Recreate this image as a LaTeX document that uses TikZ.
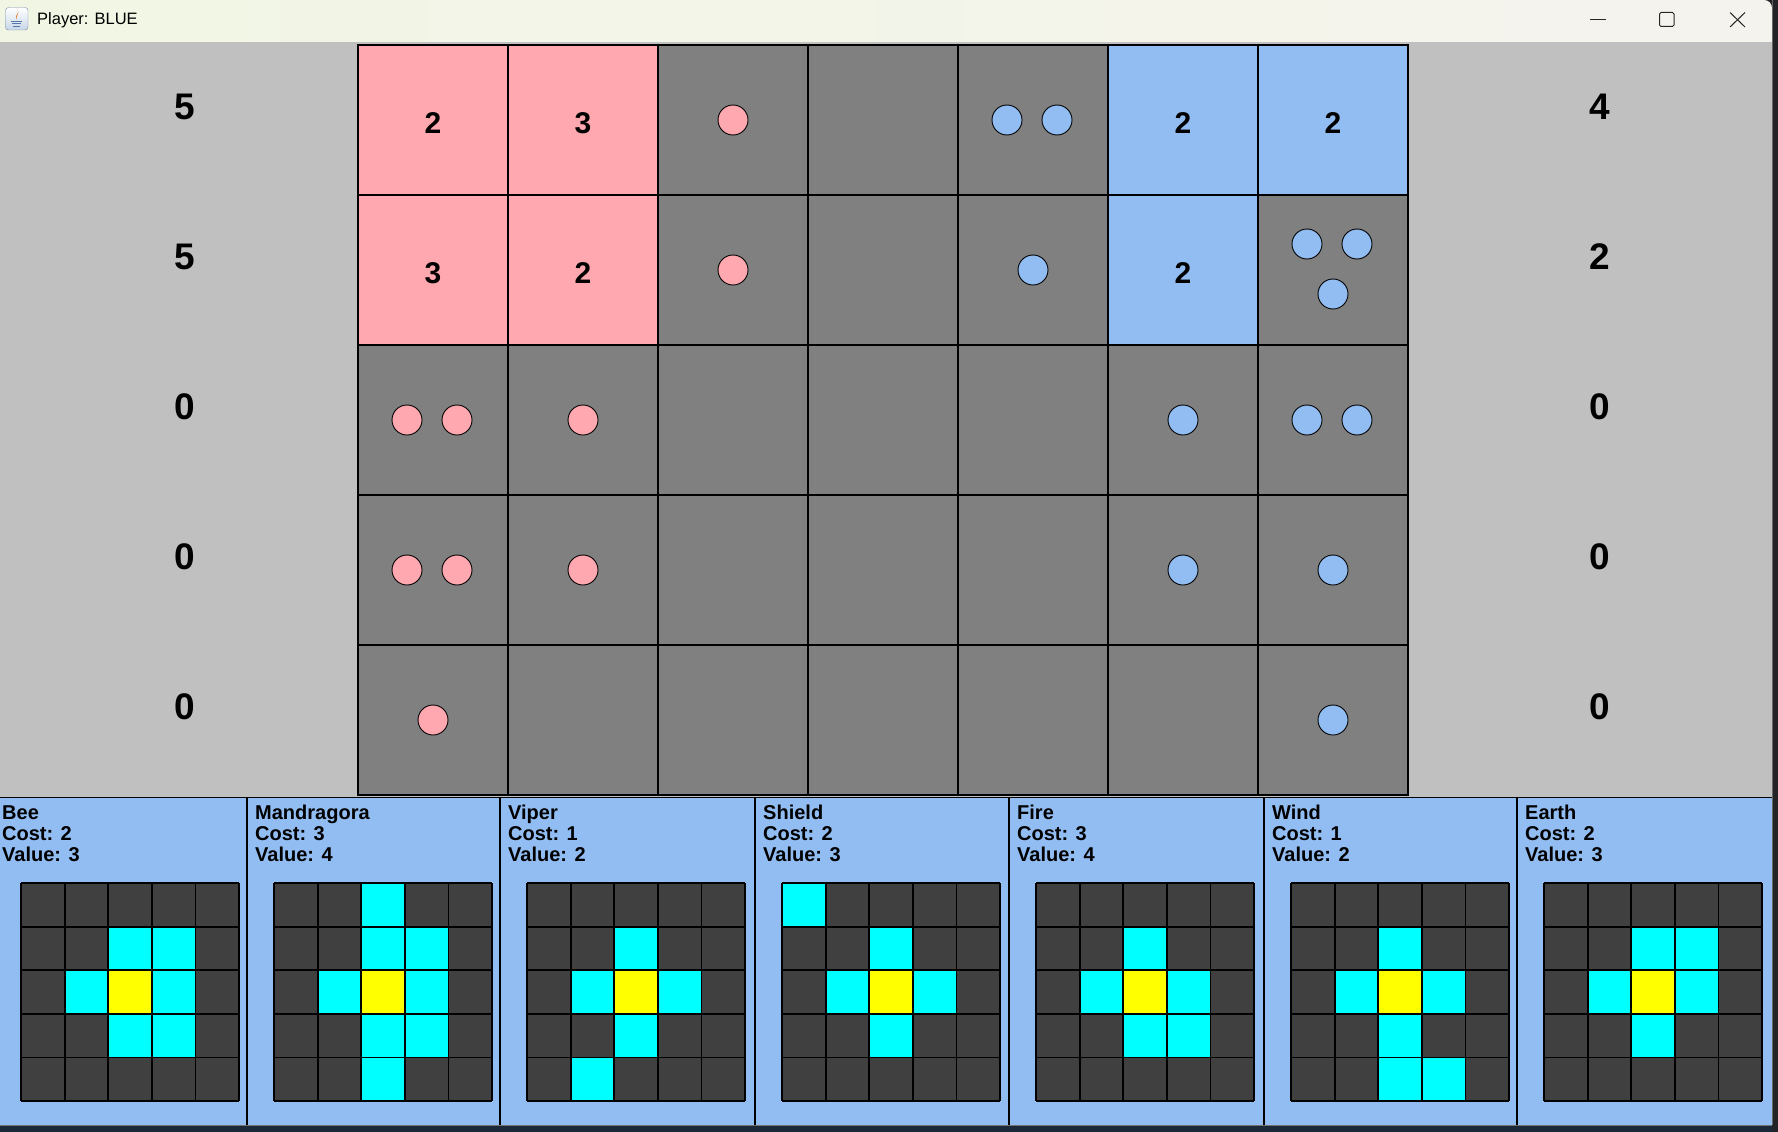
\documentclass[tikz,border=0pt]{standalone}
\usepackage{fontspec}
\setmainfont{Liberation Sans}

\definecolor{winbg}{RGB}{192,192,192}
\definecolor{titleL}{RGB}{241,246,228}
\definecolor{titleR}{RGB}{245,243,238}
\definecolor{edgedark}{RGB}{34,35,38}
\definecolor{edgenavy}{RGB}{27,40,55}
\definecolor{redcell}{RGB}{255,168,175}
\definecolor{bluecell}{RGB}{146,189,242}
\definecolor{emptycell}{RGB}{128,128,128}
\definecolor{patdark}{RGB}{64,64,64}
\definecolor{patcyan}{RGB}{0,255,255}
\definecolor{patcore}{RGB}{255,255,0}
\definecolor{iconedge}{RGB}{120,138,160}
\definecolor{iconblue}{RGB}{200,214,232}
\definecolor{cupblue}{RGB}{84,118,170}
\definecolor{flame}{RGB}{226,122,34}

\begin{document}
\begin{tikzpicture}[x=1pt, y=-1pt,
    cellbox/.style={draw=black, line width=1.2pt, minimum width=150pt, minimum height=150pt, inner sep=0pt},
    token/.style={draw=black, line width=0.9pt},
    cellnum/.style={font=\fontsize{30}{36}\selectfont\bfseries, inner sep=0pt},
    sidenum/.style={font=\fontsize{37}{44}\selectfont\bfseries, inner sep=0pt},
    cardtxt/.style={font=\fontsize{20}{24}\selectfont\bfseries, inner sep=0pt, anchor=base west},
    pat/.style={draw=black, line width=1.8pt},
    winbtn/.style={draw=black!85, line width=1pt}]
  \useasboundingbox (0,0) rectangle (1778,1132);

  % Window
  \fill[edgedark] (0,0) rectangle (1778,1132);
  \shade[left color=titleL, right color=titleR, rounded corners=8pt] (-20,0) rectangle (1772,60);
  \fill[winbg] (0,42) rectangle (1772,1125);
  \draw[black!60] (1772.5,0) -- (1772.5,1125);

  % Title bar
  \shadedraw[top color=white, bottom color=iconblue, draw=iconedge, rounded corners=3pt] (5.5,7.5) rectangle (28,30);
  \fill[flame] (17.5,10) .. controls (21,13) and (13,15) .. (17,20) .. controls (15,16) and (20,14) .. (17.5,10);
  \draw[cupblue, line width=1pt] (11,21.5) -- (22,21.5) (12,24) -- (21,24) (13,26.5) -- (20,26.5);
  \node[anchor=west, inner sep=0pt, font=\fontsize{16.5}{20}\selectfont] (title) at (37,20) {Player: BLUE};
  \draw[winbtn] (1590,19.5) -- (1606,19.5);
  \draw[winbtn, rounded corners=1.5pt] (1659.5,12.5) rectangle (1674,26.5);
  \draw[winbtn] (1730,12.5) -- (1745,27) (1745,12.5) -- (1730,27);

  % Board
  \foreach \row [count=\r from 0] in {
      {redcell,redcell,emptycell,emptycell,emptycell,bluecell,bluecell},
      {redcell,redcell,emptycell,emptycell,emptycell,bluecell,emptycell},
      {emptycell,emptycell,emptycell,emptycell,emptycell,emptycell,emptycell},
      {emptycell,emptycell,emptycell,emptycell,emptycell,emptycell,emptycell},
      {emptycell,emptycell,emptycell,emptycell,emptycell,emptycell,emptycell}}
    \foreach \col [count=\c from 0] in \row
      \node[cellbox, fill=\col] (cell-\c-\r) at ({433+150*\c},{120+150*\r}) {};

  \foreach \c/\r/\n in {0/0/2, 1/0/3, 0/1/3, 1/1/2, 5/0/2, 6/0/2, 5/1/2}
    \node[cellnum] (num-\c-\r) at ([shift={(0,3)}]cell-\c-\r.center) {\n};

  % Tokens
  \foreach \c/\r/\dx/\dy in {2/0/0/0, 2/1/0/0, 0/2/-26/0, 0/2/24/0, 1/2/0/0,
      0/3/-26/0, 0/3/24/0, 1/3/0/0, 0/4/0/0}
    \draw[token, fill=redcell] ([shift={(\dx,\dy)}]cell-\c-\r.center) circle[radius=15];
  \foreach \c/\r/\dx/\dy in {4/0/-26/0, 4/0/24/0, 4/1/0/0, 6/1/-26/-26, 6/1/24/-26, 6/1/0/24,
      5/2/0/0, 6/2/-26/0, 6/2/24/0, 5/3/0/0, 6/3/0/0, 6/4/0/0}
    \draw[token, fill=bluecell] ([shift={(\dx,\dy)}]cell-\c-\r.center) circle[radius=15];

  % Scores
  \foreach \n [count=\r from 0] in {5,5,0,0,0}
    \node[sidenum] (left-\r) at (185,{106.7+150*\r}) {\n};
  \foreach \n [count=\r from 0] in {4,2,0,0,0}
    \node[sidenum] (right-\r) at (1600,{106.7+150*\r}) {\n};

  % Cards
  \fill[bluecell] (0,797) rectangle (1772,1125);
  \draw[line width=1.5pt] (0,797.5) -- (1772,797.5);
  \foreach \L in {247,500,755,1009,1264,1517}
    \draw[line width=1.5pt] (\L,797) -- (\L,1125);

  \foreach \L/\nm/\cst/\val/\cells [count=\k] in {
      -6/Bee/2/3/{2/1,3/1,1/2,3/2,2/3,3/3},
      247/Mandragora/3/4/{2/0,2/1,3/1,1/2,3/2,2/3,3/3,2/4},
      500/Viper/1/2/{2/1,1/2,3/2,2/3,1/4},
      755/Shield/2/3/{0/0,2/1,1/2,3/2,2/3},
      1009/Fire/3/4/{2/1,1/2,3/2,2/3,3/3},
      1264/Wind/1/2/{2/1,1/2,3/2,2/3,2/4,3/4},
      1517/Earth/2/3/{2/1,3/1,1/2,3/2,2/3}} {
    \node[cardtxt] (name-\k) at (\L+8,819) {\nm};
    \node[cardtxt] (cost-\k) at (\L+8,840) {Cost: \cst};
    \node[cardtxt] (value-\k) at (\L+8,861) {Value: \val};
    \fill[patdark] (\L+27,883) rectangle ++(218,218);
    \foreach \i/\j in \cells
      \fill[patcyan] ({\L+27+43.6*\i},{883+43.6*\j}) rectangle ++(43.6,43.6);
    \fill[patcore] ({\L+27+87.2},{883+87.2}) rectangle ++(43.6,43.6);
    \foreach \i in {0,...,5} {
      \draw[pat] ({\L+27+43.6*\i},883) -- ++(0,218);
      \draw[pat] (\L+27,{883+43.6*\i}) -- ++(218,0);
    }
  }

  % Taskbar edge
  \fill[edgenavy] (0,1125) rectangle (1772,1132);
  \draw[black!55] (0,1125.5) -- (1772,1125.5);
\end{tikzpicture}
\end{document}
